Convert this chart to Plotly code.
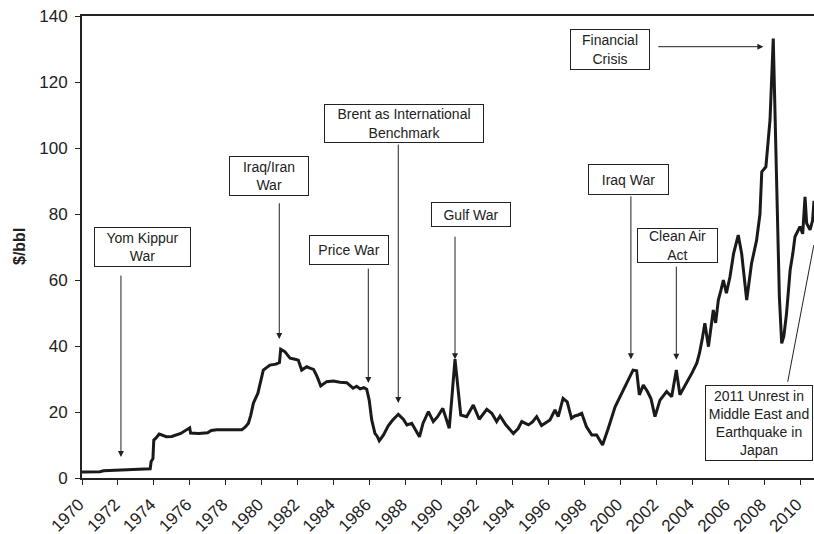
import plotly.graph_objects as go

# ---- data (year, $/bbl) ----
years = [1970.0, 1970.5, 1971.0, 1971.2, 1972.0, 1972.5, 1973.0, 1973.5, 1973.8, 1973.85,
         1973.95, 1974.0, 1974.1, 1974.3, 1974.7, 1975.0, 1975.5, 1975.8, 1976.0, 1976.05,
         1976.5, 1977.0, 1977.2, 1977.5, 1978.0, 1978.5, 1978.9, 1979.1, 1979.27, 1979.4,
         1979.55, 1979.8, 1980.1, 1980.47, 1980.8, 1981.0, 1981.07, 1981.3, 1981.59, 1981.87,
         1982.05, 1982.24, 1982.52, 1982.7, 1982.9, 1983.1, 1983.3, 1983.63, 1984.0, 1984.37,
         1984.75, 1985.1, 1985.3, 1985.5, 1985.7, 1985.86, 1986.0, 1986.14, 1986.32, 1986.45,
         1986.56, 1986.79, 1987.06, 1987.3, 1987.62, 1987.9, 1988.1, 1988.37, 1988.6, 1988.8,
         1989.0, 1989.3, 1989.57, 1989.8, 1990.1, 1990.3, 1990.46, 1990.6, 1990.78, 1990.95,
         1991.1, 1991.43, 1991.8, 1992.13, 1992.55, 1992.83, 1993.1, 1993.29, 1993.6, 1994.03,
         1994.3, 1994.5, 1994.87, 1995.1, 1995.33, 1995.6, 1996.07, 1996.35, 1996.53, 1996.8,
         1997.03, 1997.27, 1997.45, 1997.65, 1997.84, 1998.1, 1998.4, 1998.67, 1999.0, 1999.32,
         1999.7, 1999.97, 2000.25, 2000.44, 2000.7, 2000.9, 2001.05, 2001.27, 2001.5, 2001.7,
         2001.92, 2002.2, 2002.57, 2002.85, 2003.11, 2003.31, 2003.69, 2003.97, 2004.25, 2004.4,
         2004.55, 2004.7, 2004.9, 2005.17, 2005.3, 2005.45, 2005.6, 2005.73, 2005.9, 2006.1,
         2006.3, 2006.56, 2006.75, 2006.9, 2007.03, 2007.3, 2007.58, 2007.77, 2007.87, 2008.1,
         2008.33, 2008.51, 2008.7, 2008.85, 2008.98, 2009.1, 2009.25, 2009.45, 2009.6, 2009.72,
         2010.0, 2010.15, 2010.28, 2010.37, 2010.56, 2010.7, 2010.78]
prices = [1.8, 1.8, 1.9, 2.2, 2.3, 2.4, 2.6, 2.7, 2.8, 5.0,
          5.8, 11.5, 12.0, 13.3, 12.5, 12.6, 13.5, 14.5, 15.2, 13.6,
          13.5, 13.7, 14.4, 14.6, 14.6, 14.5, 14.6, 15.5, 16.6, 19.0,
          22.7, 25.7, 32.7, 34.2, 34.5, 35.0, 39.0, 38.3, 36.3, 36.0,
          35.7, 32.7, 33.7, 33.3, 32.9, 30.7, 27.9, 29.2, 29.4, 29.0,
          28.9, 27.2, 27.8, 27.0, 27.4, 26.9, 23.6, 17.6, 13.5, 12.6,
          11.3, 13.0, 15.8, 17.5, 19.3, 17.8, 16.1, 16.6, 14.5, 12.5,
          16.6, 20.1, 17.1, 18.5, 21.1, 17.5, 15.1, 24.0, 36.0, 27.0,
          19.1, 18.6, 22.1, 17.8, 20.8, 19.6, 17.1, 18.8, 16.2, 13.5,
          15.0, 17.1, 16.1, 17.0, 18.6, 15.9, 17.6, 20.6, 18.6, 24.1,
          23.1, 18.1, 18.8, 19.1, 19.6, 15.6, 13.0, 13.0, 10.0, 15.1,
          21.6, 24.6, 27.7, 29.7, 32.7, 32.5, 25.2, 28.2, 26.2, 24.0,
          18.6, 23.6, 26.2, 24.6, 32.7, 25.2, 28.7, 31.7, 34.8, 37.8,
          42.0, 46.9, 39.8, 50.9, 47.0, 53.9, 57.0, 60.0, 56.0, 61.0,
          68.0, 73.6, 68.0, 60.0, 53.9, 65.0, 72.0, 80.0, 92.8, 94.3,
          108.5, 133.2, 88.0, 55.0, 40.8, 43.0, 49.9, 63.0, 68.0, 73.1,
          76.2, 74.0, 85.2, 77.2, 75.2, 78.0, 84.0]

x_ticks = list(range(1970, 2011, 2))
y_ticks = [0, 20, 40, 60, 80, 100, 120, 140]

# ---- event boxes ----
box_texts = ["Yom Kippur<br>War", "Iraq/Iran<br>War", "Brent as International<br>Benchmark",
             "Price War", "Gulf War", "Iraq War", "Clean Air<br>Act", "Financial<br>Crisis",
             "2011 Unrest in<br>Middle East and<br>Earthquake in<br>Japan"]
box_x = [1973.37, 1980.41, 1987.92, 1984.86, 1991.67, 2000.46, 2003.15, 1999.42, 2007.73]
box_y = [70.0, 91.5, 107.5, 69.1, 79.9, 90.4, 70.5, 129.8, 16.7]
box_w = [97, 80, 160, 80, 80, 81, 81, 80, 108]
box_h = [40, 40, 39, 30, 25, 31, 35, 41, 76]

# ---- arrows: head (x, y) and tail (x, y) ----
arr_head_x = [1972.17, 1980.99, 1987.62, 1985.95, 1990.78, 2000.58, 2003.11, 2007.96, 2010.77]
arr_head_y = [6.4, 42.1, 22.7, 28.8, 36.0, 36.0, 35.8, 130.7, 70.6]
arr_tail_x = [1972.17, 1980.99, 1987.62, 1985.95, 1990.78, 2000.58, 2003.11, 2002.02, 2009.30]
arr_tail_y = [61.8, 83.7, 101.5, 63.9, 73.6, 85.8, 64.5, 130.7, 28.7]
arr_style = [2, 2, 2, 2, 2, 2, 2, 2, 0]

FONT = "Arial, Liberation Sans, Helvetica, sans-serif"

fig = go.Figure()
fig.add_trace(go.Scatter(x=years, y=prices, mode="lines",
                         line=dict(color="#1a1a1a", width=3),
                         hoverinfo="skip", showlegend=False))

annotations = []
for t, x, y, w, h in zip(box_texts, box_x, box_y, box_w, box_h):
    annotations.append(dict(x=x, y=y, xref="x", yref="y", text=t, showarrow=False,
                            font=dict(family=FONT, size=14, color="#222"),
                            bgcolor="white", bordercolor="#222", borderwidth=1,
                            borderpad=0, width=w - 2, height=h - 2,
                            align="center", valign="middle"))
for hx, hy, tx, ty, st in zip(arr_head_x, arr_head_y, arr_tail_x, arr_tail_y, arr_style):
    annotations.append(dict(x=hx, y=hy, xref="x", yref="y", ax=tx, ay=ty,
                            axref="x", ayref="y", text="", showarrow=True,
                            arrowhead=st, arrowsize=1.2, arrowwidth=1,
                            arrowcolor="#222"))
# y-axis title
annotations.append(dict(x=-(82 - 19) / 732, y=0.5, xref="paper", yref="paper",
                        text="<b>$/bbl</b>", showarrow=False, textangle=-90,
                        xanchor="center", yanchor="middle",
                        font=dict(family=FONT, size=16, color="#222")))

fig.update_layout(
    width=814, height=534,
    margin=dict(l=82, r=0, t=16, b=56, autoexpand=False),
    paper_bgcolor="white", plot_bgcolor="white",
    font=dict(family=FONT, size=15, color="#222"),
    annotations=annotations,
    xaxis=dict(range=[1970, 2010.78], tickmode="array", tickvals=x_ticks,
               ticktext=[str(v) for v in x_ticks], tickangle=-45, automargin=False,
               showgrid=False, zeroline=False, showline=True, linecolor="#222",
               linewidth=2, mirror=True, ticks="outside", ticklen=5,
               tickcolor="#222", tickfont=dict(size=17),
               ticklabelstandoff=3, ticklabelshift=-3),
    yaxis=dict(range=[0, 140], tickmode="array", tickvals=y_ticks, automargin=False,
               showgrid=False, zeroline=False, showline=True, linecolor="#222",
               linewidth=2, ticks="outside", ticklen=5, tickcolor="#222",
               ticklabelstandoff=4, tickfont=dict(size=17)),
)

fig.write_html("out.html", config={"displayModeBar": False},
               post_script="document.body.style.margin='0';document.body.style.overflow='hidden';")
